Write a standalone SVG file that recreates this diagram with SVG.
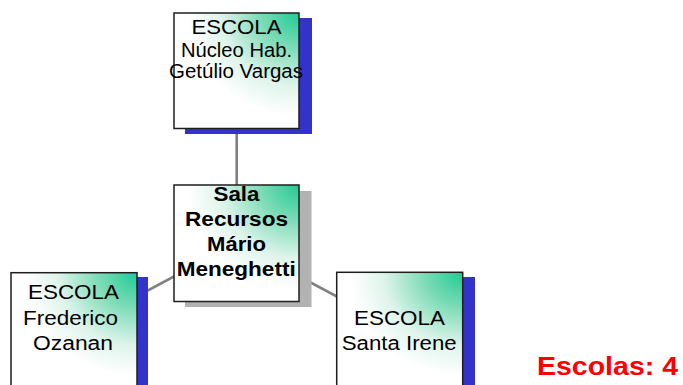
<svg xmlns="http://www.w3.org/2000/svg" width="683" height="385" viewBox="0 0 683 385">
<defs>
<radialGradient id="fill" cx="1" cy="0" r="1.05" fx="1" fy="0">
<stop offset="0" stop-color="#1fcb94"/>
<stop offset="0.3" stop-color="#7fdcb8"/>
<stop offset="0.6" stop-color="#def4eb"/>
<stop offset="0.85" stop-color="#ffffff"/>
<stop offset="1" stop-color="#ffffff"/>
</radialGradient>
<style>
.box{fill:url(#fill);stroke:#1e1e1e;stroke-width:1.5}
.sb{fill:#3333cc}
.sg{fill:#b2b2b2}
.conn{stroke:#808080;stroke-width:2.6;fill:none}
.t{font-family:"Liberation Sans",Arial,sans-serif;font-size:20px;fill:#000;text-anchor:middle}
.tb{font-family:"Liberation Sans",Arial,sans-serif;font-size:19.5px;font-weight:bold;fill:#000;text-anchor:middle}
.red{font-family:"Liberation Sans",Arial,sans-serif;font-size:26px;font-weight:bold;fill:#ff0000}
</style>
</defs>
<rect width="683" height="385" fill="#ffffff"/>
<g id="connectors">
<line class="conn" x1="236.7" y1="128" x2="236.7" y2="185"/>
<line class="conn" x1="236.5" y1="243" x2="74" y2="330"/>
<line class="conn" x1="236.5" y1="243" x2="399.7" y2="330"/>
</g>
<g id="node-top">
<rect class="sb" x="185" y="18" width="127" height="116"/>
<rect class="box" x="174" y="13" width="125" height="115.5"/>
<text class="t" x="236.5" y="34" textLength="90" lengthAdjust="spacingAndGlyphs">ESCOLA</text>
<text class="t" x="236.5" y="57" textLength="111" lengthAdjust="spacingAndGlyphs">Núcleo Hab.</text>
<text class="t" x="236" y="78" textLength="134" lengthAdjust="spacingAndGlyphs">Getúlio Vargas</text>
</g>
<g id="node-center">
<rect class="sg" x="185" y="191" width="126.5" height="116"/>
<rect class="box" x="174" y="185" width="125" height="116.5"/>
<text class="tb" x="236.5" y="201" textLength="46" lengthAdjust="spacingAndGlyphs">Sala</text>
<text class="tb" x="236.5" y="226" textLength="103" lengthAdjust="spacingAndGlyphs">Recursos</text>
<text class="tb" x="236.5" y="250.5" textLength="59" lengthAdjust="spacingAndGlyphs">Mário</text>
<text class="tb" x="236.2" y="276" textLength="119" lengthAdjust="spacingAndGlyphs">Meneghetti</text>
</g>
<g id="node-left">
<rect class="sb" x="22" y="277" width="126" height="116"/>
<rect class="box" x="11" y="272.7" width="126" height="116"/>
<text class="t" x="73.5" y="299" textLength="91" lengthAdjust="spacingAndGlyphs">ESCOLA</text>
<text class="t" x="70.5" y="325" textLength="95" lengthAdjust="spacingAndGlyphs">Frederico</text>
<text class="t" x="73" y="349.5" textLength="80" lengthAdjust="spacingAndGlyphs">Ozanan</text>
</g>
<g id="node-right">
<rect class="sb" x="348" y="277" width="127" height="116"/>
<rect class="box" x="336.7" y="272.3" width="126" height="116"/>
<text class="t" x="399.5" y="325" textLength="91" lengthAdjust="spacingAndGlyphs">ESCOLA</text>
<text class="t" x="399.2" y="350" textLength="115" lengthAdjust="spacingAndGlyphs">Santa Irene</text>
</g>
<text class="red" x="537" y="375" textLength="141" lengthAdjust="spacingAndGlyphs">Escolas: 4</text>
</svg>
